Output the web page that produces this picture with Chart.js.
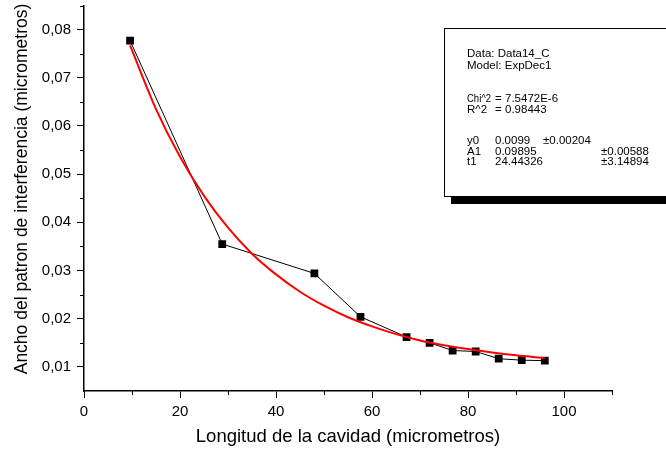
<!DOCTYPE html>
<html>
<head>
<meta charset="utf-8">
<script src="https://cdn.jsdelivr.net/npm/chart.js@4"></script>
<style>
  body { margin: 0; background: #fff; }
  canvas { display: block; }
</style>
</head>
<body>
<canvas id="chart" width="666" height="454"></canvas>
<script>
// Measured points: cavity length vs. interference pattern width
const lengthUm = [9.6, 28.8, 48, 57.6, 67.2, 72, 76.8, 81.6, 86.4, 91.2, 96];
const widthUm = [0.0777, 0.0355, 0.0294, 0.0204, 0.0162, 0.0150, 0.0134, 0.0132, 0.0117, 0.0114, 0.0113];

// ExpDec1 fit curve, sampled along the x range
const fitX = [9.6, 15, 20, 25, 30, 35, 40, 45, 50, 55, 60, 65, 70, 75, 80, 85, 90, 96];
const fitY = [0.0767, 0.0635, 0.0536, 0.0455, 0.0389, 0.0335, 0.0292, 0.0256, 0.0227, 0.0203,
              0.0184, 0.0168, 0.0155, 0.0145, 0.0137, 0.0130, 0.0124, 0.0118];

// Axis ticks
const xTicks = [0, 20, 40, 60, 80, 100];
const xMinor = [10, 30, 50, 70, 90, 110];
const yTicks = [0.01, 0.02, 0.03, 0.04, 0.05, 0.06, 0.07, 0.08];
const yTickLabels = ["0,01", "0,02", "0,03", "0,04", "0,05", "0,06", "0,07", "0,08"];
const yMinor = [0.015, 0.025, 0.035, 0.045, 0.055, 0.065, 0.075, 0.085];

const yTitle = "Ancho del patron de interferencia (micrometros)";
const xTitle = "Longitud de la cavidad (micrometros)";

// Fit report text
const fitHeader = ["Data: Data14_C", "Model: ExpDec1"];
const fitStats = [["Chi^2", "7.5472E-6"], ["R^2", "0.98443"]];
const fitParams = [
  ["y0", "0.0099", "±0.00204"],
  ["A1", "0.09895", "±0.00588"],
  ["t1", "24.44326", "±3.14894"],
];

const FONT = "'Liberation Sans', Arial, sans-serif";

// Short minor ticks on both axes
const minorTicks = {
  id: "minorTicks",
  afterDraw(chart) {
    const { ctx, scales: { x, y }, chartArea } = chart;
    ctx.save();
    ctx.strokeStyle = "#000";
    ctx.lineWidth = 1;
    ctx.beginPath();
    xMinor.forEach((v) => {
      const px = Math.round(x.getPixelForValue(v)) + 0.5;
      ctx.moveTo(px, chartArea.bottom);
      ctx.lineTo(px, chartArea.bottom + 4);
    });
    yMinor.forEach((v) => {
      const py = Math.round(y.getPixelForValue(v)) + 0.5;
      ctx.moveTo(chartArea.left, py);
      ctx.lineTo(chartArea.left - 4, py);
    });
    ctx.stroke();
    ctx.restore();
  },
};

// Vertical axis title, sitting a little above the plot's middle
const yAxisTitle = {
  id: "yAxisTitle",
  afterDraw(chart) {
    const ctx = chart.ctx;
    ctx.save();
    ctx.translate(22, 189);
    ctx.rotate(-Math.PI / 2);
    ctx.fillStyle = "#000";
    ctx.font = "17.5px " + FONT;
    ctx.textAlign = "center";
    ctx.textBaseline = "middle";
    ctx.fillText(yTitle, 0, 0);
    ctx.restore();
  },
};

// Fit results box with drop shadow
const fitBox = {
  id: "fitBox",
  afterDraw(chart) {
    const ctx = chart.ctx;
    ctx.save();
    ctx.fillStyle = "#000";
    ctx.fillRect(451, 197, 260, 7);
    ctx.fillStyle = "#fff";
    ctx.fillRect(444.5, 28.5, 260, 168);
    ctx.strokeStyle = "#000";
    ctx.lineWidth = 1;
    ctx.strokeRect(444.5, 28.5, 260, 168);

    ctx.fillStyle = "#000";
    ctx.font = "11.5px " + FONT;
    ctx.textBaseline = "middle";
    ctx.textAlign = "left";
    fitHeader.forEach((t, i) => ctx.fillText(t, 467, 54 + i * 12));
    fitStats.forEach((r, i) => {
      const yy = 98.5 + i * 11;
      ctx.fillText(r[0], 467, yy, 24);
      ctx.fillText("=", 495, yy);
      ctx.fillText(r[1], 505, yy);
    });
    fitParams.forEach((r, i) => {
      const yy = 141 + i * 10.5;
      ctx.fillText(r[0], 467, yy);
      ctx.fillText(r[1], 495, yy);
      ctx.fillText(r[2], i === 0 ? 543 : 601, yy);
    });
    ctx.restore();
  },
};

// Drop the automatic label padding so the plot area spans the full axis range
const noEdgePadding = (s) => {
  s.paddingTop = 0;
  s.paddingBottom = 0;
  s.paddingLeft = 0;
  s.paddingRight = 0;
};

new Chart(document.getElementById("chart"), {
  type: "line",
  data: {
    datasets: [
      {
        label: "Data14_C",
        data: lengthUm.map((v, i) => ({ x: v, y: widthUm[i] })),
        borderColor: "#000",
        borderWidth: 1,
        backgroundColor: "#000",
        pointStyle: "rect",
        pointRadius: 5.5,
        pointBorderWidth: 0,
        tension: 0,
        order: 2,
      },
      {
        label: "ExpDec1",
        data: fitX.map((v, i) => ({ x: v, y: fitY[i] })),
        borderColor: "#ff0000",
        borderWidth: 2,
        pointRadius: 0,
        cubicInterpolationMode: "monotone",
        order: 1,
      },
    ],
  },
  options: {
    responsive: false,
    devicePixelRatio: 1,
    animation: false,
    layout: { padding: { top: 5, right: 54, bottom: 0, left: 0 } },
    plugins: { legend: { display: false }, tooltip: { enabled: false } },
    scales: {
      x: {
        type: "linear",
        min: 0,
        max: 110,
        afterBuildTicks: (s) => { s.ticks = xTicks.map((v) => ({ value: v })); },
        afterFit: (s) => { s.height = 63; noEdgePadding(s); },
        border: { color: "#000", width: 1.5 },
        grid: { drawOnChartArea: false, color: "#000", tickLength: 7 },
        ticks: { color: "#000", font: { family: FONT, size: 15 }, padding: 5, maxRotation: 0 },
        title: {
          display: true,
          text: xTitle,
          color: "#000",
          font: { family: FONT, size: 18.5 },
          padding: { top: 0, bottom: 6 },
        },
      },
      y: {
        type: "linear",
        min: 0.005,
        max: 0.085,
        afterBuildTicks: (s) => { s.ticks = yTicks.map((v) => ({ value: v })); },
        afterFit: (s) => { s.width = 84; noEdgePadding(s); },
        border: { color: "#000", width: 1.5 },
        grid: { drawOnChartArea: false, color: "#000", tickLength: 7 },
        ticks: {
          color: "#000",
          font: { family: FONT, size: 15 },
          padding: 6,
          callback: (v, i) => yTickLabels[i],
        },
        title: { display: false },
      },
    },
  },
  plugins: [minorTicks, yAxisTitle, fitBox],
});
</script>
</body>
</html>
